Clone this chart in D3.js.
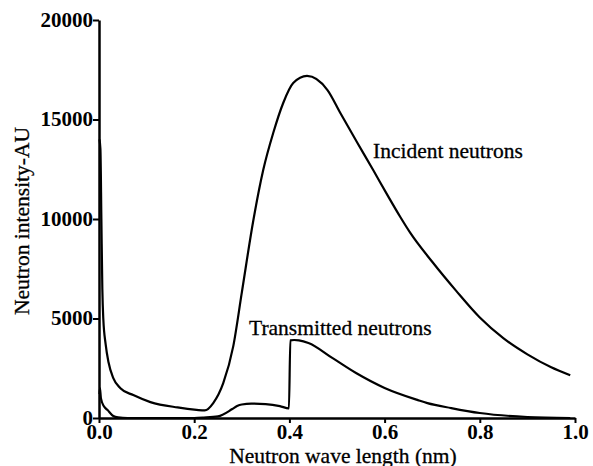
<!DOCTYPE html>
<html>
<head>
<meta charset="utf-8">
<script src="https://cdn.jsdelivr.net/npm/d3@7"></script>
<style>
  body { margin: 0; background: #fff; }
  svg text { font-family: "Liberation Serif", "Times New Roman", serif; fill: #000; }
</style>
</head>
<body>
<svg id="chart" width="593" height="466"></svg>
<script>
// wave length (nm) / intensity for the incident beam
var incidentX = [0.001, 0.003, 0.005, 0.007, 0.009, 0.014, 0.020, 0.030, 0.045, 0.072, 0.108, 0.165, 0.205, 0.222,
  0.240, 0.261, 0.282, 0.300, 0.324, 0.345, 0.366, 0.387, 0.408, 0.437, 0.480, 0.507, 0.543, 0.576, 0.606, 0.633,
  0.654, 0.700, 0.750, 0.800, 0.850, 0.900, 0.950, 0.990];
var incidentY = [14000, 13500, 10000, 6500, 5000, 3700, 2800, 2000, 1500, 1150, 800, 530, 410, 380,
  750, 1750, 3600, 6300, 9900, 12460, 14320, 15830, 16830, 17190, 16480, 15330, 13820, 12460, 11200, 10100,
  9300, 7850, 6400, 5050, 4000, 3200, 2550, 2150];

// transmitted beam
var transmittedX = [0.001, 0.002, 0.004, 0.010, 0.018, 0.030, 0.040, 0.060, 0.120, 0.200, 0.220, 0.250, 0.280, 0.290,
  0.300, 0.320, 0.350, 0.380, 0.399, 0.402, 0.410, 0.420, 0.440, 0.490, 0.540, 0.600, 0.670, 0.690, 0.740,
  0.800, 0.900, 0.990];
var transmittedY = [1200, 1500, 1000, 600, 400, 100, 30, 0, 0, 0, 20, 80, 450, 600,
  680, 720, 700, 600, 480, 3900, 3920, 3900, 3770, 3020, 2260, 1510, 900, 750, 500,
  250, 50, 0];

var xTicks = [0, 0.2, 0.4, 0.6, 0.8, 1.0];
var yTicks = [0, 5000, 10000, 15000, 20000];

var svg = d3.select('#chart');
var margin = {top: 20, left: 99, right: 18, bottom: 48};
var width = 593, height = 466;

var x = d3.scaleLinear().domain([0, 1]).range([margin.left, width - margin.right]);
var y = d3.scaleLinear().domain([0, 20000]).range([height - margin.bottom, margin.top]);

// axes
var xAxis = svg.append('g')
  .attr('transform', 'translate(0,' + y(0) + ')')
  .call(d3.axisBottom(x).tickValues(xTicks).tickFormat(d3.format('.1f')).tickSize(5).tickSizeOuter(0));
var yAxis = svg.append('g')
  .attr('transform', 'translate(' + x(0) + ',0)')
  .call(d3.axisLeft(y).tickValues(yTicks).tickFormat(d3.format('d')).tickSize(6).tickSizeOuter(0));

[xAxis, yAxis].forEach(function(g) {
  g.selectAll('.domain').attr('stroke', '#000').attr('stroke-width', 2.5);
  g.selectAll('line').attr('stroke', '#000').attr('stroke-width', 2);
  g.selectAll('text')
    .style('font-family', '"Liberation Serif", serif')
    .style('font-weight', 'bold')
    .style('font-size', '21px')
    .attr('fill', '#000');
});
xAxis.selectAll('text').attr('dy', null).attr('y', 21);
yAxis.selectAll('text').attr('x', -6).attr('dy', '0.3em');

// curves
var line = d3.line()
  .x(function(d) { return x(d[0]); })
  .y(function(d) { return y(d[1]); })
  .curve(d3.curveMonotoneX);

var incident = incidentX.map(function(v, i) { return [v, incidentY[i]]; });
var transmitted = transmittedX.map(function(v, i) { return [v, transmittedY[i]]; });

svg.append('path').datum(incident).attr('d', line)
  .attr('fill', 'none').attr('stroke', '#000').attr('stroke-width', 2.2);
svg.append('path').datum(transmitted).attr('d', line)
  .attr('fill', 'none').attr('stroke', '#000').attr('stroke-width', 2.2);

// labels
function label(t) {
  return t.style('font-size', '21.5px').attr('stroke', '#000').attr('stroke-width', 0.3);
}
label(svg.append('text').attr('x', 373).attr('y', 158).text('Incident neutrons'));
label(svg.append('text').attr('x', 249).attr('y', 335).text('Transmitted neutrons'));

label(svg.append('text').attr('x', 343).attr('y', 463).attr('text-anchor', 'middle')
  .text('Neutron wave length (nm)'));
label(svg.append('text')
  .attr('transform', 'translate(29,221) rotate(-90)')
  .attr('text-anchor', 'middle')
  .text('Neutron intensity-AU'));
</script>
</body>
</html>
